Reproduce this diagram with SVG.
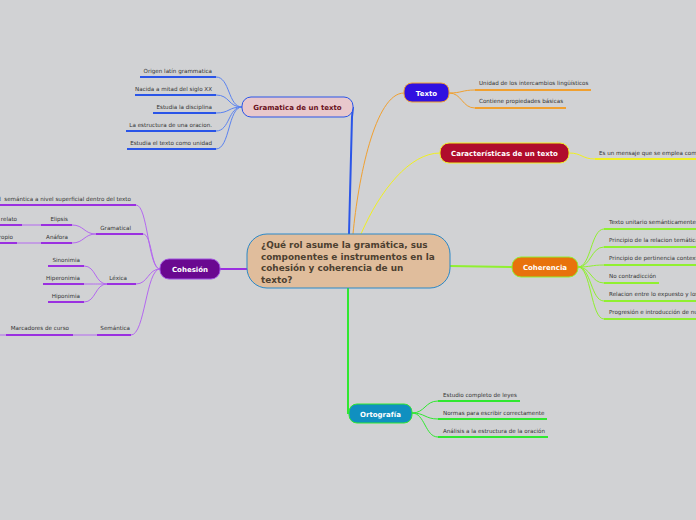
<svg xmlns="http://www.w3.org/2000/svg" width="696" height="520" viewBox="0 0 696 520">
<style>
.leaf{font-family:"DejaVu Sans",sans-serif;font-size:5.6px;fill:#333}
.lbl{font-family:"DejaVu Sans",sans-serif;font-size:7px;font-weight:bold;text-anchor:middle}
.c{fill:none;stroke-width:1}
.u{fill:none;stroke-width:2}
.blue{stroke:#2a55e8}.bluec{stroke:#5a82f0}
.org{stroke:#f0a030}
.yel{stroke:#f0f020}
.grn{stroke:#90f030}
.gr2{stroke:#30e830}
.pur{stroke:#9a30e0}.purc{stroke:#b468f0}
</style>
<rect width="696" height="520" fill="#d1d2d4"/>
<g id="connectors">
<path class="u blue" d="M349 234 L352 117 Q353 108 353 107"/>
<path class="c org" stroke-width="1.5" d="M353 234 C358 180 375 93 404 93"/>
<path class="c yel" stroke-width="1.5" d="M361 234 C380 190 410 153 440 153"/>
<path class="u grn" stroke-width="1.5" d="M450 266 L512 267"/>
<path class="u gr2" d="M348 288 L348 413 L349 413"/>
<path class="u pur" stroke-width="1.5" d="M247 269 L220 269"/>
<!-- gramatica leaves -->
<path class="c bluec" d="M242 107 C228 107 230 77 216 77"/>
<path class="c bluec" d="M242 107 C228 107 230 95 216 95"/>
<path class="c bluec" d="M242 107 C228 107 230 113 216 113"/>
<path class="c bluec" d="M242 107 C228 107 230 131 216 131"/>
<path class="c bluec" d="M242 107 C228 107 230 149 216 149"/>
<path class="u blue" d="M140 77H216M135 95H216M153 113H216M126 131H216M127 149H216"/>
<!-- texto leaves -->
<path class="c org" d="M449 93 C462 93 462 90 475 90M449 93 C462 93 462 108 475 108"/>
<path class="u org" d="M475 90H591M475 108H566"/>
<!-- caracteristicas leaf -->
<path class="c yel" d="M569 153 C582 153 582 159 595 159"/>
<path class="u yel" d="M595 159H696"/>
<!-- coherencia leaves -->
<path class="c grn" d="M578 267 C591 267 591 229 604 229M578 267 C591 267 591 247 604 247M578 267 C591 267 591 265 604 265M578 267 C591 267 591 283 604 283M578 267 C591 267 591 301 604 301M578 267 C591 267 591 319 604 319"/>
<path class="u grn" d="M604 229H696M604 247H696M604 265H696M604 283H659M604 301H696M604 319H696"/>
<!-- ortografia leaves -->
<path class="c gr2" d="M412 413 C425 413 425 401 438 401M412 413 C425 413 425 419 438 419M412 413 C425 413 425 437 438 437"/>
<path class="u gr2" d="M438 401H520M438 419H547M438 437H548"/>
<!-- cohesion leaves -->
<path class="c purc" d="M160 269 C148 269 148 205 136 205M160 269 C151 269 152 234 143 234M160 269 C148 269 148 284 136 284M160 269 C146 269 145 335 131 335"/>
<path class="u pur" d="M0 205H136M96 234H143M107 284H136M97 335H131"/>
<path class="c purc" d="M96 234 C84 234 84 225 72 225M96 234 C84 234 84 243 72 243"/>
<path class="u pur" d="M41 225H72M41 243H72M0 225H22M0 243H17"/>
<path class="c purc" d="M22 225H41M17 243H41"/>
<path class="c purc" d="M107 284 C95 284 96 266 84 266M107 284 C95 284 96 284 84 284M107 284 C95 284 96 302 84 302"/>
<path class="u pur" d="M48 266H84M43 284H84M48 302H84"/>
<path class="c purc" d="M73 335H97M0 335H6"/>
<path class="u pur" d="M6 335H73"/>
</g>
<g id="central">
<rect x="247" y="234" width="203" height="54" rx="20" fill="#e0bd9c" stroke="#2a88c8" stroke-width="1"/>
<text font-family="DejaVu Sans,sans-serif" font-size="8.9" font-weight="bold" fill="#4d4030">
<tspan x="261" y="248">¿Qué rol asume la gramática, sus</tspan>
<tspan x="261" y="259.5">componentes e instrumentos en la</tspan>
<tspan x="261" y="271">cohesión y coherencia de un</tspan>
<tspan x="261" y="282.5">texto?</tspan>
</text>
</g>
<g id="gramatica">
<rect x="242" y="97" width="111" height="20" rx="9" fill="#e8c8cc" stroke="#2a55e8" stroke-width="1"/>
<text class="lbl" x="297.5" y="109.5" fill="#6a1020">Gramatica de un texto</text>
<g class="leaf" text-anchor="end">
<text x="212" y="73">Origen latín grammatica</text>
<text x="212" y="91">Nacida a mitad del siglo XX</text>
<text x="212" y="109">Estudia la disciplina</text>
<text x="212" y="127">La estructura de una oracion.</text>
<text x="212" y="145">Estudia el texto como unidad</text>
</g>
</g>
<g id="texto">
<rect x="404" y="83" width="45" height="19" rx="8" fill="#3010e0" stroke="#f0a030" stroke-width="1"/>
<text class="lbl" x="426.5" y="95.5" fill="#fff">Texto</text>
<text class="leaf" x="479" y="85">Unidad de los intercambios lingüísticos</text>
<text class="leaf" x="479" y="103">Contiene propiedades básicas</text>
</g>
<g id="caracteristicas">
<rect x="440" y="143" width="129" height="20" rx="9" fill="#b00c2c" stroke="#f0f020" stroke-width="1"/>
<text class="lbl" x="504.5" y="155.5" fill="#fff">Características de un texto</text>
<text class="leaf" x="599" y="155">Es un mensaje que se emplea comp</text>
</g>
<g id="coherencia">
<rect x="512" y="257" width="66" height="20" rx="9" fill="#e8720c" stroke="#90f030" stroke-width="1"/>
<text class="lbl" x="545" y="269.5" fill="#fff">Coherencia</text>
<g class="leaf">
<text x="609" y="224">Texto unitario semánticamente</text>
<text x="609" y="242">Principio de la relacion temática</text>
<text x="609" y="260">Principio de pertinencia context</text>
<text x="609" y="278">No contradicción</text>
<text x="609" y="296">Relacion entre lo expuesto y los</text>
<text x="609" y="314">Progresión e introducción de nu</text>
</g>
</g>
<g id="ortografia">
<rect x="349" y="404" width="63" height="19" rx="8" fill="#1090c0" stroke="#30e830" stroke-width="1"/>
<text class="lbl" x="380.5" y="416.5" fill="#fff">Ortografía</text>
<g class="leaf">
<text x="443" y="397">Estudio completo de leyes</text>
<text x="443" y="415">Normas para escribir correctamente</text>
<text x="443" y="433">Análisis a la estructura de la oración</text>
</g>
</g>
<g id="cohesion">
<rect x="160" y="259" width="60" height="20" rx="9" fill="#6a0890" stroke="#a050e0" stroke-width="1"/>
<text class="lbl" x="190" y="271.5" fill="#fff">Cohesión</text>
<g class="leaf" text-anchor="end">
<text x="131" y="201" style="white-space:pre">d  semántica a nivel superficial dentro del texto</text>
<text x="131" y="230">Gramatical</text>
<text x="17" y="221">relato</text>
<text x="68" y="221">Elipsis</text>
<text x="13" y="239">propio</text>
<text x="68" y="239">Anáfora</text>
<text x="127" y="280">Léxica</text>
<text x="80" y="262">Sinonimia</text>
<text x="80" y="280">Hiperonimia</text>
<text x="80" y="298">Hiponimia</text>
<text x="130" y="330">Semántica</text>
<text x="69" y="330">Marcadores de curso</text>
</g>
</g>
</svg>
